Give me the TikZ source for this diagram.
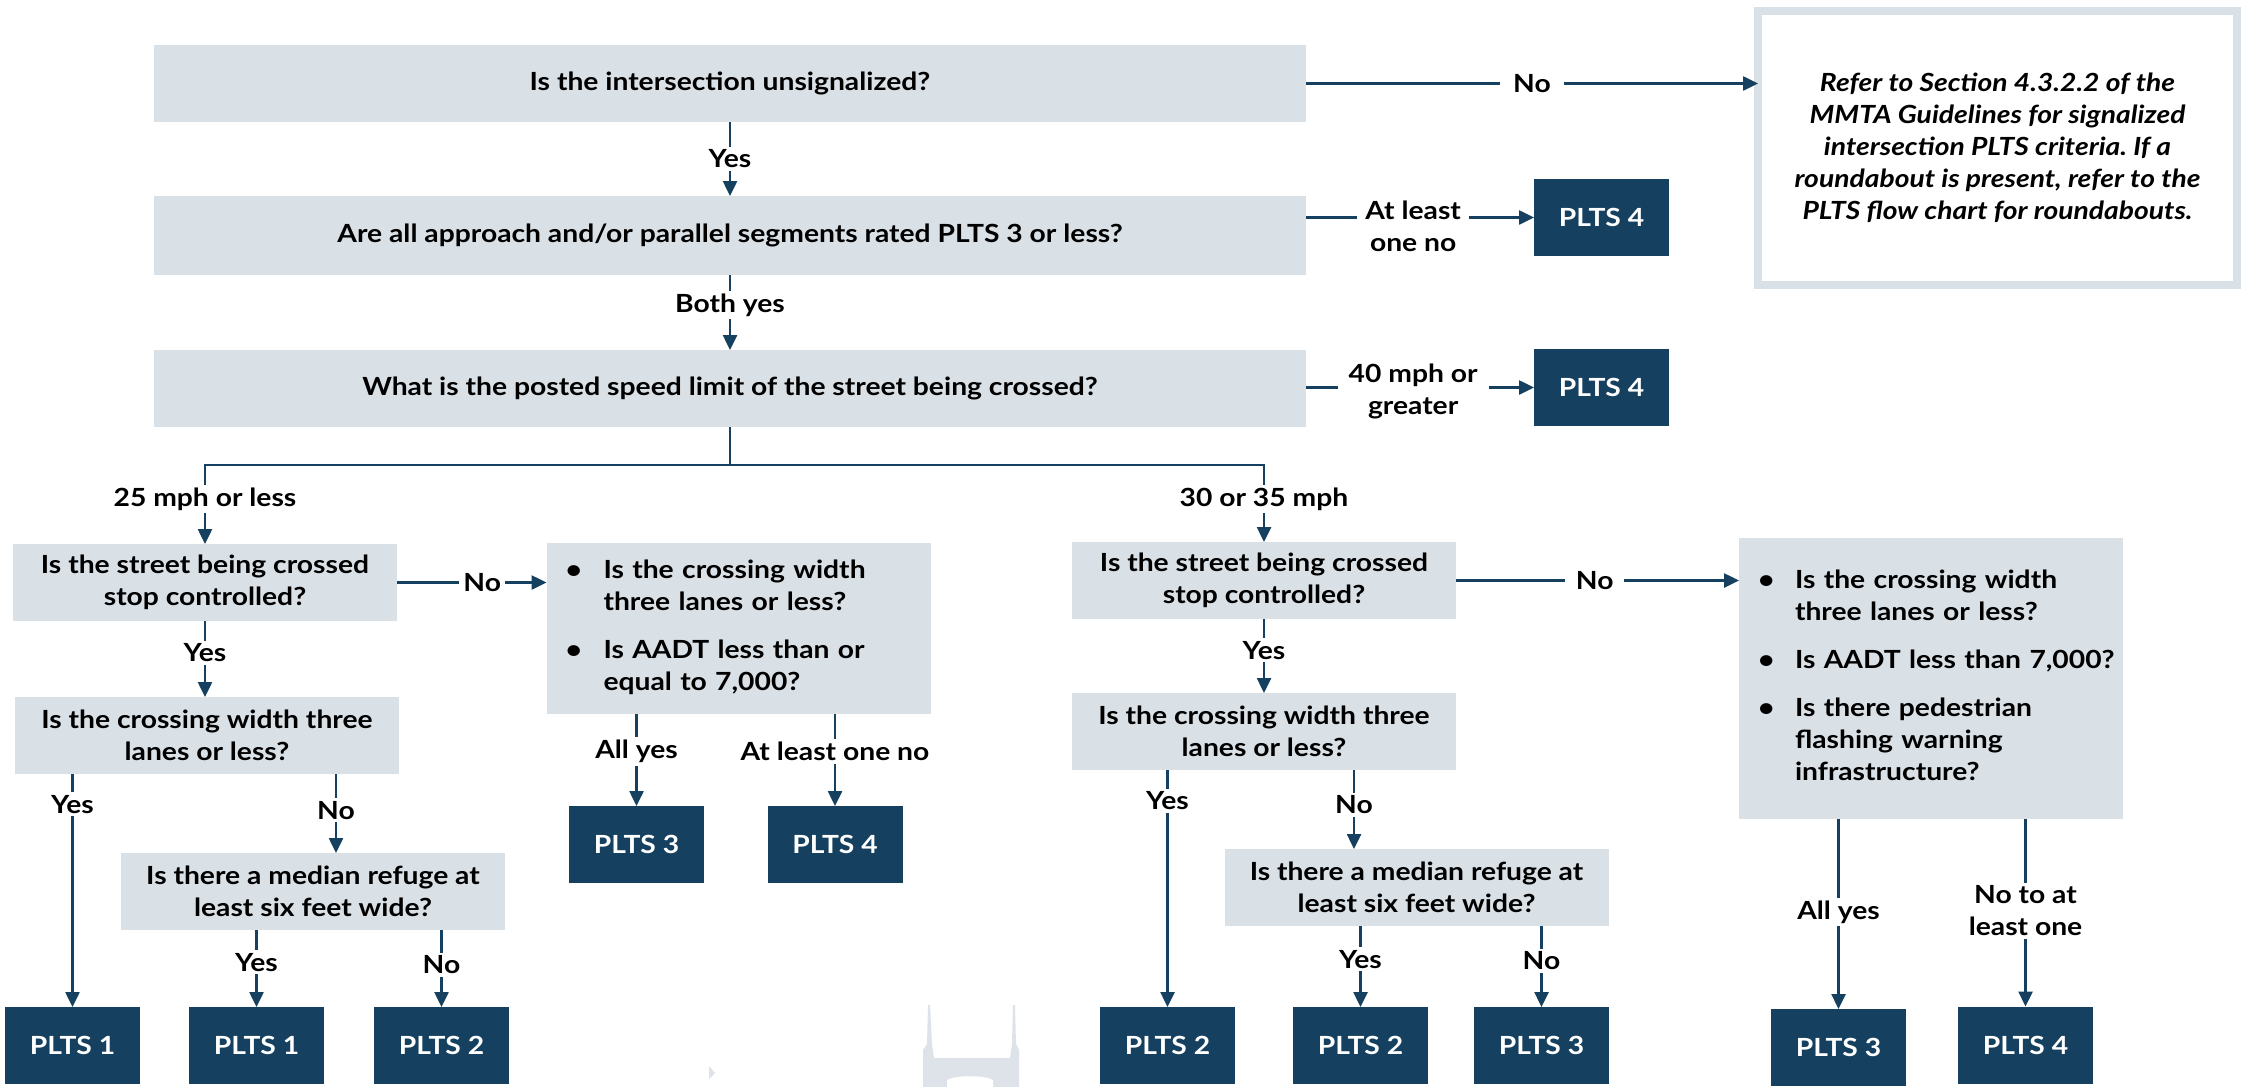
\documentclass[tikz,border=0pt]{standalone}
\usepackage{fontspec}
\setmainfont{Lato}[FakeStretch=1.13]
\usetikzlibrary{arrows.meta}

\definecolor{navy}{HTML}{15405F}
\definecolor{boxgray}{HTML}{D9E0E6}
\definecolor{markgray}{HTML}{DDE3E9}

\tikzset{
  base/.style={font=\fontsize{25}{32}\selectfont\bfseries, outer sep=0pt, inner sep=0pt},
  qbox/.style={base, fill=boxgray, text=black, align=center},
  wide/.style={qbox, minimum width=1152pt, minimum height=77pt},
  mid/.style={qbox, minimum width=384pt, minimum height=77pt},
  result/.style={base, fill=navy, text=white, minimum width=135pt, minimum height=77pt},
  lab/.style={base, fill=white, text=black, inner xsep=4pt, inner ysep=3pt, align=center},
  hlab/.style={lab, inner xsep=11pt},
  conn/.style={draw=navy, line width=2.5pt},
  arr/.style={conn, -{Triangle[width=14pt,length=15pt]}},
}

\newcommand{\bul}[1]{\makebox[#1][l]{\textbullet}}
\frenchspacing

\begin{document}
\begin{tikzpicture}[x=1pt,y=-1pt]
\useasboundingbox (0,0) rectangle (2241,1087);
\fill[white] (0,0) rectangle (2241,1087);

% faint bridge-tower mark in the background
\fill[markgray] (923,1087) -- (923,1050) -- (927,1044) -- (928,1005) -- (930,1005)
  -- (932,1044) -- (934,1058) -- (1010,1058) -- (1012,1044) -- (1013,1005)
  -- (1015,1005) -- (1016,1044) -- (1019,1050) -- (1019,1087) -- cycle;
\fill[white] (947,1087) -- (947,1080) .. controls (955,1075) and (985,1075) .. (993,1080) -- (993,1087) -- cycle;
\fill[markgray] (709,1066) -- (715,1073) -- (709,1079) -- cycle;

% top questions
\node[wide] (q1) at (730,83.5) {Is the intersection unsignalized?};
\node[wide, minimum height=79pt] (q2) at (730,235.5) {Are all approach and/or parallel segments rated PLTS 3 or less?};
\node[wide] (q3) at (730,388.5) {What is the posted speed limit of the street being crossed?};

\node[base, draw=boxgray, line width=8pt, fill=white, minimum width=479pt, minimum height=274pt,
      align=center, font=\fontsize{25}{32}\selectfont\bfseries\itshape] (ref) at (1997.5,148)
  {Refer to Section 4.3.2.2 of the\\MMTA Guidelines for signalized\\intersection PLTS criteria. If a\\roundabout is present, refer to the\\PLTS flow chart for roundabouts.};

\node[result] (r4a) at (1601.5,217.5) {PLTS 4};
\node[result] (r4b) at (1601.5,387.5) {PLTS 4};

% 25 mph or less branch
\node[mid] (l1) at (205,582.5) {Is the street being crossed\\stop controlled?};
\node[qbox, text width=346pt, inner xsep=19pt, minimum height=171pt, align=left] (lb) at (738.5,628.5)
  {\begin{tabular}{@{}l@{}l@{}}
   \bul{38pt} & Is the crossing width\\
              & three lanes or less?\\[16pt]
   \bul{38pt} & Is AADT less than or\\
              & equal to 7,000?
   \end{tabular}};
\node[mid] (l2) at (207,735.5) {Is the crossing width three\\lanes or less?};
\node[mid] (l3) at (313,891.5) {Is there a median refuge at\\least six feet wide?};
\node[result] (p1a) at (72.5,1045.5) {PLTS 1};
\node[result] (p1b) at (256.5,1045.5) {PLTS 1};
\node[result] (p2a) at (441.5,1045.5) {PLTS 2};
\node[result] (p3a) at (636.5,844.5) {PLTS 3};
\node[result] (p4c) at (835,844.5) {PLTS 4};

% 30 or 35 mph branch
\node[mid] (r1) at (1264,580.5) {Is the street being crossed\\stop controlled?};
\node[qbox, text width=346pt, inner xsep=19pt, minimum height=281pt, align=left] (rb) at (1931,678.5)
  {\begin{tabular}{@{}l@{}l@{}}
   \bul{37pt} & Is the crossing width\\
              & three lanes or less?\\[16pt]
   \bul{37pt} & Is AADT less than 7,000?\\[16pt]
   \bul{37pt} & Is there pedestrian\\
              & flashing warning\\
              & infrastructure?
   \end{tabular}};
\node[mid] (r2) at (1264,731.5) {Is the crossing width three\\lanes or less?};
\node[mid] (r3) at (1416.5,887.5) {Is there a median refuge at\\least six feet wide?};
\node[result] (p2b) at (1167.5,1045.5) {PLTS 2};
\node[result] (p2c) at (1360.5,1045.5) {PLTS 2};
\node[result] (p3b) at (1541.5,1045.5) {PLTS 3};
\node[result] (p3c) at (1838.5,1047.5) {PLTS 3};
\node[result] (p4d) at (2025.5,1045) {PLTS 4};

% top connectors
\draw[arr] (q1.south) -- node[lab]{Yes} (q2.north);
\draw[arr] (q2.south) -- node[lab, pos=0.4]{Both yes} (q3.north);
\draw[arr] (q1.east) -- node[hlab, inner xsep=13pt]{No} (q1.east -| ref.west);
\draw[arr] (q2.east |- r4a.west) -- node[hlab, inner xsep=8pt, pos=0.47, yshift=-9pt]{At least\\one no} (r4a.west);
\draw[arr] (q3.east |- r4b.west) -- node[hlab, pos=0.47, yshift=-3.5pt]{40 mph or\\greater} (r4b.west);

% speed split
\path (q3.south) ++(0,38) coordinate (split);
\draw[conn] (q3.south) -- (split);
\draw[conn, line cap=rect] (split -| l1.north) -- (split -| r1.north);
\draw[arr] (split -| l1.north) -- node[lab, pos=0.43]{25 mph or less} (l1.north);
\draw[arr] (split -| r1.north) -- node[lab, pos=0.44]{30 or 35 mph} (r1.north);

% left branch connectors
\draw[arr] (l1.east) -- node[lab, pos=0.57]{No} (l1.east -| lb.west);
\draw[arr] (l1.south) -- node[lab, pos=0.42]{Yes} (l1.south |- l2.north);
\draw[arr] (l2.south -| p1a.north) -- node[lab, pos=0.13]{Yes} (p1a.north);
\draw[arr] ([xshift=129pt]l2.south) -- node[lab, pos=0.46]{No} ([xshift=129pt]l2.south |- l3.north);
\draw[arr] (l3.south -| p1b.north) -- node[lab, pos=0.42]{Yes} (p1b.north);
\draw[arr] (l3.south -| p2a.north) -- node[lab, pos=0.45]{No} (p2a.north);
\draw[arr] (lb.south -| p3a.north) -- node[lab, pos=0.41]{All yes} (p3a.north);
\draw[arr] (lb.south -| p4c.north) -- node[lab, pos=0.41]{At least one no} (p4c.north);

% right branch connectors
\draw[arr] (r1.east) -- node[hlab, pos=0.49]{No} (r1.east -| rb.west);
\draw[arr] (r1.south) -- node[lab, pos=0.42]{Yes} (r2.north);
\draw[arr] (r2.south -| p2b.north) -- node[lab, pos=0.13]{Yes} (p2b.north);
\draw[arr] ([xshift=90pt]r2.south) -- node[lab, pos=0.44]{No} ([xshift=90pt]r2.south |- r3.north);
\draw[arr] (r3.south -| p2c.north) -- node[lab, pos=0.41]{Yes} (p2c.north);
\draw[arr] (r3.south -| p3b.north) -- node[lab, pos=0.43]{No} (p3b.north);
\draw[arr] (rb.south -| p3c.north) -- node[lab, pos=0.49]{All yes} (p3c.north);
\draw[arr] (rb.south -| p4d.north) -- node[lab, pos=0.49]{No to at\\least one} (p4d.north);
\end{tikzpicture}
\end{document}
